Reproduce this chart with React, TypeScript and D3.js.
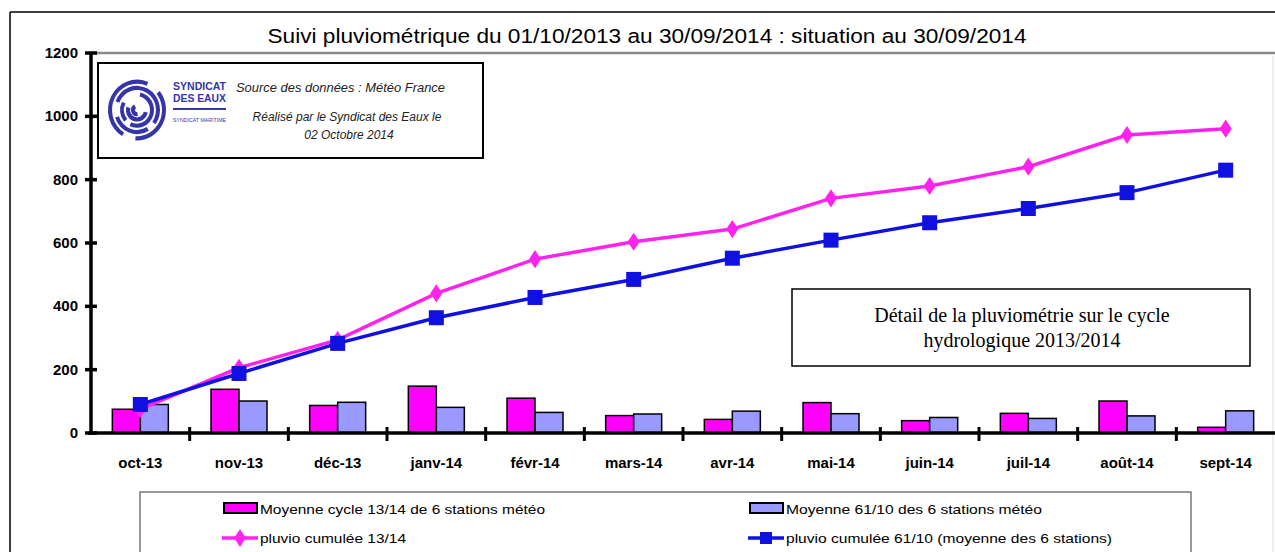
import React from 'react';
import * as d3 from 'd3';

const months = ['oct-13', 'nov-13', 'déc-13', 'janv-14', 'févr-14', 'mars-14', 'avr-14', 'mai-14', 'juin-14', 'juil-14', 'août-14', 'sept-14'];
// monthly average rainfall (mm)
const cycle1314 = [75, 138, 87, 148, 110, 55, 43, 96, 39, 62, 101, 18];
const normal6110 = [90, 101, 97, 81, 65, 60, 69, 61, 49, 46, 54, 70];
// cumulated rainfall (mm)
const cumul1314 = [75, 206, 294, 441, 549, 604, 644, 741, 780, 841, 941, 961];
const cumul6110 = [90, 188, 283, 364, 428, 485, 552, 609, 664, 709, 759, 830];
const yTicks = [0, 200, 400, 600, 800, 1000, 1200];

const W = 1275;
const H = 552;
const PINK = '#FF00FF';
const LILAC = '#9999FF';
const PINK_LINE = '#FF22EE';
const BLUE = '#1010E0';
const sans = 'Arial, "Liberation Sans", sans-serif';
const serif = '"Times New Roman", "Liberation Serif", serif';

const App = () => {
  const x = d3.scaleBand().domain(months).range([91, 1275]);
  const y = d3.scaleLinear().domain([0, 1200]).range([433, 53]);
  const bw = 28;
  const cx = (m: string) => (x(m) as number) + x.bandwidth() / 2;

  const line = d3.line<number>().x((d, i) => cx(months[i])).y(d => y(d));
  const diamond = d3.symbol().type(d3.symbolDiamond).size(95)();

  // logo spiral arcs
  const arcs = [
    { r: 27, a0: -2.6, a1: 0.4 }, { r: 27, a0: 0.9, a1: 3.2 },
    { r: 21, a0: -1.2, a1: 2.2 }, { r: 21, a0: 2.6, a1: 4.4 },
    { r: 15, a0: 0.2, a1: 3.6 }, { r: 15, a0: 4.0, a1: 5.2 },
    { r: 9, a0: 1.8, a1: 5.0 }, { r: 4, a0: 3.0, a1: 5.8 },
  ];
  const arcGen = d3.arc<any>().innerRadius(d => d.r - 2).outerRadius(d => d.r + 2)
    .startAngle(d => d.a0).endAngle(d => d.a1);

  return (
    <svg width={W} height={H} style={{ position: 'absolute', left: 0, top: 0, background: '#fff' }}>
      {/* frame */}
      <line x1={10} y1={12} x2={W} y2={12} stroke="#000" strokeWidth={1.5} />
      <line x1={10} y1={12} x2={10} y2={H} stroke="#000" strokeWidth={1.5} />
      <line x1={1273} y1={56} x2={1273} y2={H} stroke="#ddd" strokeWidth={1} />

      <text x={647} y={43} textAnchor="middle" fontFamily={sans} fontSize={20} textLength={759} lengthAdjust="spacingAndGlyphs">
        Suivi pluviométrique du 01/10/2013 au 30/09/2014 : situation au 30/09/2014
      </text>

      {/* top grid line */}
      <line x1={91} x2={W} y1={y(1200)} y2={y(1200)} stroke="#888" strokeWidth={2.5} />

      {/* bars */}
      {months.map((m, i) => (
        <g key={m}>
          <rect x={cx(m) - bw} y={y(cycle1314[i])} width={bw} height={y(0) - y(cycle1314[i])} fill={PINK} stroke="#000" strokeWidth={1.5} />
          <rect x={cx(m)} y={y(normal6110[i])} width={bw} height={y(0) - y(normal6110[i])} fill={LILAC} stroke="#000" strokeWidth={1.5} />
        </g>
      ))}

      {/* axes */}
      <line x1={88} x2={W} y1={y(0)} y2={y(0)} stroke="#000" strokeWidth={3.5} />
      {months.map((m, i) => i > 0 && (
        <line key={m} x1={x(m)} x2={x(m)} y1={427} y2={441} stroke="#000" strokeWidth={3} />
      ))}
      <line x1={91} x2={91} y1={y(1200)} y2={y(0)} stroke="#000" strokeWidth={3.5} />
      {yTicks.map(t => (
        <g key={t}>
          <line x1={85} x2={97} y1={y(t)} y2={y(t)} stroke="#000" strokeWidth={3.5} />
          <text x={78} y={y(t) + 5} textAnchor="end" fontFamily={sans} fontSize={15} fontWeight="bold">{t}</text>
        </g>
      ))}
      {months.map(m => (
        <text key={m} x={cx(m)} y={468} textAnchor="middle" fontFamily={sans} fontSize={15} fontWeight="bold">{m}</text>
      ))}

      {/* cumulative lines */}
      <path d={line(cumul1314) || ''} fill="none" stroke={PINK_LINE} strokeWidth={3.5} />
      {cumul1314.map((v, i) => (
        <path key={i} d={diamond || ''} transform={`translate(${cx(months[i])},${y(v)}) scale(1.15,1)`} fill={PINK_LINE} />
      ))}
      <path d={line(cumul6110) || ''} fill="none" stroke={BLUE} strokeWidth={3.5} />
      {cumul6110.map((v, i) => (
        <rect key={i} x={cx(months[i]) - 7.5} y={y(v) - 7.5} width={15} height={15} fill={BLUE} />
      ))}

      {/* logo box */}
      <rect x={98} y={63} width={385} height={95} fill="#fff" stroke="#000" strokeWidth={2} />
      <g transform="translate(137,110) scale(1,1.05)">
        {arcs.map((a, i) => <path key={i} d={arcGen(a) || ''} fill="#3535A8" />)}
      </g>
      <text x={173} y={90} fontFamily={sans} fontSize={11} fontWeight="bold" fill="#3535A8" textLength={53} lengthAdjust="spacingAndGlyphs">SYNDICAT</text>
      <text x={173} y={102} fontFamily={sans} fontSize={11} fontWeight="bold" fill="#3535A8" textLength={53} lengthAdjust="spacingAndGlyphs">DES EAUX</text>
      <line x1={173} x2={226} y1={109} y2={109} stroke="#3535A8" strokeWidth={2} />
      <text x={173} y={122} fontFamily={sans} fontSize={5} fill="#3535A8" textLength={53} lengthAdjust="spacingAndGlyphs">SYNDICAT MARITIME</text>
      <text x={236} y={92} fontFamily={sans} fontSize={12} fontStyle="italic" fill="#222" textLength={209} lengthAdjust="spacingAndGlyphs">Source des données : Météo France</text>
      <text x={347} y={121} textAnchor="middle" fontFamily={sans} fontSize={12} fontStyle="italic" fill="#222">Réalisé par le Syndicat des Eaux le</text>
      <text x={349} y={139} textAnchor="middle" fontFamily={sans} fontSize={12} fontStyle="italic" fill="#222">02 Octobre 2014</text>

      {/* description box */}
      <rect x={792} y={289} width={458} height={77} fill="#fff" stroke="#000" strokeWidth={1.5} />
      <text x={1022} y={322} textAnchor="middle" fontFamily={serif} fontSize={20}>Détail de la pluviométrie sur le cycle</text>
      <text x={1022} y={347} textAnchor="middle" fontFamily={serif} fontSize={20}>hydrologique 2013/2014</text>

      {/* legend */}
      <rect x={140} y={492} width={1051} height={80} fill="#fff" stroke="#555" strokeWidth={1.2} />
      <rect x={224} y={503} width={33} height={10} fill={PINK} stroke="#000" strokeWidth={2} />
      <text x={260} y={514} fontFamily={sans} fontSize={13} textLength={285} lengthAdjust="spacingAndGlyphs">Moyenne cycle 13/14 de 6 stations météo</text>
      <line x1={222} x2={258} y1={538} y2={538} stroke={PINK_LINE} strokeWidth={3.5} />
      <path d={diamond || ''} transform="translate(240,538) scale(1.1,1)" fill={PINK_LINE} />
      <text x={260} y={543} fontFamily={sans} fontSize={13} textLength={146} lengthAdjust="spacingAndGlyphs">pluvio cumulée 13/14</text>
      <rect x={750} y={503} width={33} height={10} fill={LILAC} stroke="#000" strokeWidth={2} />
      <text x={786} y={514} fontFamily={sans} fontSize={13} textLength={256} lengthAdjust="spacingAndGlyphs">Moyenne  61/10 des 6 stations météo</text>
      <line x1={748} x2={784} y1={538} y2={538} stroke={BLUE} strokeWidth={3.5} />
      <rect x={760} y={532} width={12} height={12} fill={BLUE} />
      <text x={786} y={543} fontFamily={sans} fontSize={13} textLength={326} lengthAdjust="spacingAndGlyphs">pluvio cumulée 61/10 (moyenne des 6 stations)</text>
    </svg>
  );
};

export default App;
